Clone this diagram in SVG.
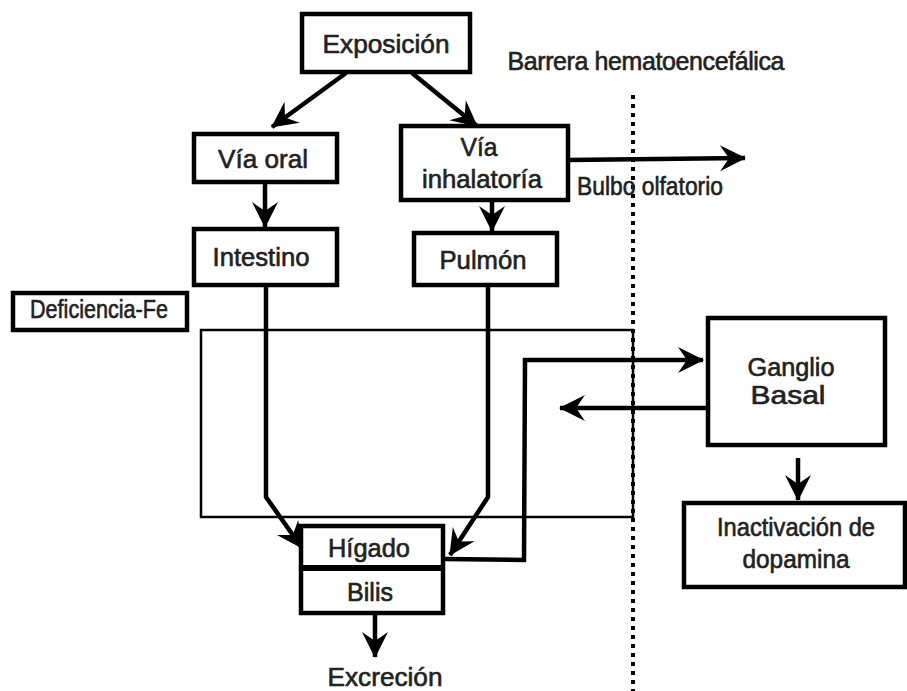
<svg xmlns="http://www.w3.org/2000/svg" width="907" height="691" viewBox="0 0 907 691">
<defs>
<marker id="ah" markerUnits="userSpaceOnUse" markerWidth="30" markerHeight="30" viewBox="0 0 30 30" refX="27" refY="15" orient="auto">
<path d="M2,2 L28,15 L2,28 L11,15 z" fill="#000"/>
</marker>
<style>
.box{fill:#fff;stroke:#000;stroke-width:4.5}
.t{font-family:"Liberation Sans",Arial,sans-serif;font-size:25px;fill:#222;stroke:#222;stroke-width:0.6;text-anchor:middle}
.ar{fill:none;stroke:#000;stroke-width:4.5;marker-end:url(#ah)}
</style>
</defs>
<rect width="907" height="691" fill="#fff"/>
<g id="region">
<rect x="201" y="330" width="432" height="187" fill="none" stroke="#000" stroke-width="2.5"/>
</g>
<g id="barrier">
<line x1="633" y1="95" x2="633" y2="691" stroke="#000" stroke-width="4" stroke-dasharray="4 5"/>
<text class="t" x="646" y="70" font-size="19" textLength="277" lengthAdjust="spacing">Barrera hematoencefálica</text>
</g>
<g id="connectors">
<line class="ar" x1="346" y1="73" x2="272" y2="127"/>
<line class="ar" x1="412" y1="73" x2="477" y2="126"/>
<line class="ar" x1="265" y1="182" x2="265" y2="227"/>
<line class="ar" x1="492" y1="200" x2="492" y2="231"/>
<line class="ar" x1="568" y1="160" x2="745" y2="158"/>
<polyline class="ar" points="266,285 266,497 302,548"/>
<polyline class="ar" points="488,285 488,497 450,555"/>
<polyline class="ar" points="445,559 524,560 525,360 703,360"/>
<line class="ar" x1="707" y1="408" x2="560" y2="408"/>
<line class="ar" x1="798" y1="458" x2="798" y2="500"/>
<line class="ar" x1="375" y1="613" x2="375" y2="657"/>
</g>
<g id="exposicion"><rect class="box" x="302" y="14" width="168" height="58"/><text class="t" x="386" y="53" font-size="28" textLength="127" lengthAdjust="spacingAndGlyphs">Exposición</text></g>
<g id="via-oral"><rect class="box" x="194" y="134" width="143" height="48"/><text class="t" x="263" y="168" font-size="27" textLength="90" lengthAdjust="spacingAndGlyphs">Vía oral</text></g>
<g id="via-inhalatoria"><rect class="box" x="401" y="126" width="167" height="74"/><text class="t" x="479" y="156" font-size="26" textLength="37" lengthAdjust="spacingAndGlyphs">Vía</text><text class="t" x="482" y="188" font-size="26" textLength="120" lengthAdjust="spacingAndGlyphs">inhalatoría</text></g>
<g id="intestino"><rect class="box" x="194" y="229" width="143" height="56"/><text class="t" x="261" y="266" font-size="27" textLength="97" lengthAdjust="spacingAndGlyphs">Intestino</text></g>
<g id="pulmon"><rect class="box" x="414" y="233" width="143" height="52"/><text class="t" x="483" y="269" font-size="27" textLength="87" lengthAdjust="spacingAndGlyphs">Pulmón</text></g>
<g id="deficiencia"><rect class="box" x="13" y="293" width="174" height="37"/><text class="t" x="99" y="318" font-size="21" textLength="138" lengthAdjust="spacingAndGlyphs">Deficiencia-Fe</text></g>
<g id="bulbo"><text class="t" x="650" y="195" font-size="19" textLength="146" lengthAdjust="spacingAndGlyphs">Bulbo olfatorio</text></g>
<g id="higado"><rect class="box" x="301" y="526" width="142" height="87"/><line x1="301" y1="568" x2="443" y2="568" stroke="#000" stroke-width="6"/><text class="t" x="369" y="557" font-size="25" textLength="82" lengthAdjust="spacingAndGlyphs">Hígado</text><text class="t" x="370" y="601" font-size="25" textLength="46" lengthAdjust="spacingAndGlyphs">Bilis</text></g>
<g id="excrecion"><text class="t" x="385" y="686" font-size="25" textLength="115" lengthAdjust="spacingAndGlyphs">Excreción</text></g>
<g id="ganglio"><rect class="box" x="708" y="318" width="177" height="127"/><text class="t" x="791" y="376" font-size="25" textLength="87" lengthAdjust="spacingAndGlyphs">Ganglio</text><text class="t" x="788" y="404" font-size="25" textLength="75" lengthAdjust="spacingAndGlyphs">Basal</text></g>
<g id="inactivacion"><rect class="box" x="684" y="503" width="221" height="84"/><text class="t" x="796" y="536" font-size="24" textLength="158" lengthAdjust="spacingAndGlyphs">Inactivación de</text><text class="t" x="796" y="568" font-size="24" textLength="107" lengthAdjust="spacingAndGlyphs">dopamina</text></g>
</svg>
